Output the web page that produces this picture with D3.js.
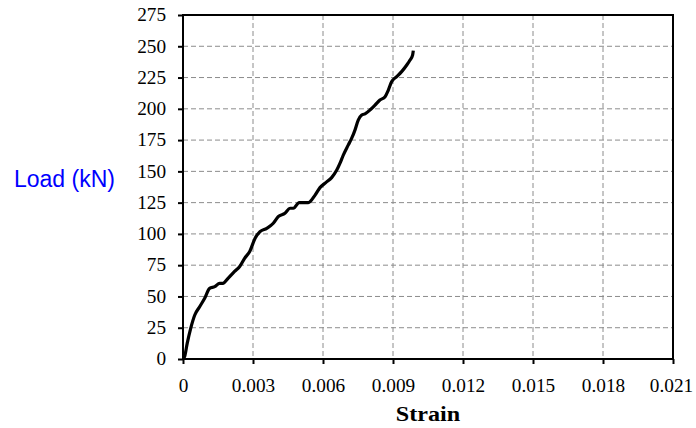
<!DOCTYPE html>
<html>
<head>
<meta charset="utf-8">
<script src="https://cdn.jsdelivr.net/npm/d3@7"></script>
<style>
  body { margin: 0; background: #fff; }
  .tick text { font-family: "Liberation Serif", "Times New Roman", serif; font-size: 18px; fill: #000; }
</style>
</head>
<body>
<div id="chart"></div>
<script>
// strain / load readings taken off the curve
const strain = [0, 0.00007, 0.00018, 0.00033, 0.0005, 0.00072, 0.00093, 0.00114, 0.00136, 0.00157,
  0.00171, 0.00193, 0.00221, 0.00243, 0.00264, 0.00286, 0.00309, 0.0033, 0.00359, 0.00387,
  0.00408, 0.00437, 0.00459, 0.00473, 0.00498, 0.00537, 0.00566, 0.00587, 0.00612, 0.00637,
  0.00659, 0.00673, 0.00687, 0.00708, 0.00723, 0.00737, 0.00751, 0.00766, 0.0078, 0.00801,
  0.00823, 0.00844, 0.00866, 0.0088, 0.00894, 0.00916, 0.00937, 0.00959, 0.00973, 0.00984, 0.00987];
const load = [0, 2, 12.5, 24.5, 35, 42, 48.5, 56.5, 57.8, 60.5,
  60.5, 64.5, 70, 74, 80.5, 86, 96.5, 101.8, 104.5, 108.5,
  113.8, 116.5, 120.5, 120.5, 125, 125, 131, 137, 141, 145,
  151, 156.5, 163, 171, 176.5, 183, 191, 195, 196, 199,
  203, 207, 209.7, 215, 221.7, 225.7, 229.7, 235, 239, 243, 246.5];

const xTicks = [0, 0.003, 0.006, 0.009, 0.012, 0.015, 0.018, 0.021];
const yTicks = [0, 25, 50, 75, 100, 125, 150, 175, 200, 225, 250, 275];

const W = 696, H = 428;
const margin = {top: 15, right: 23, bottom: 69, left: 183};
const width = W - margin.left - margin.right;
const height = H - margin.top - margin.bottom;
const sx = 1.07; // the source picture's text is a touch wider than normal

const svg = d3.select("#chart").append("svg")
    .attr("width", W)
    .attr("height", H);

const g = svg.append("g")
    .attr("transform", `translate(${margin.left},${margin.top})`);

const x = d3.scaleLinear().domain([0, 0.021]).range([0, width]);
const y = d3.scaleLinear().domain([0, 275]).range([height, 0]);

// dashed grid
g.selectAll(".vgrid")
  .data(xTicks.slice(1, -1))
  .join("line")
    .attr("x1", d => x(d)).attr("x2", d => x(d))
    .attr("y1", 0).attr("y2", height)
    .attr("stroke", "#8c8c8c").attr("stroke-width", 1)
    .attr("stroke-dasharray", "5,3");

g.selectAll(".hgrid")
  .data(yTicks.slice(1, -1))
  .join("line")
    .attr("x1", 0).attr("x2", width)
    .attr("y1", d => y(d)).attr("y2", d => y(d))
    .attr("stroke", "#8c8c8c").attr("stroke-width", 1)
    .attr("stroke-dasharray", "5,3");

// frame
g.append("rect")
  .attr("width", width).attr("height", height)
  .attr("fill", "none").attr("stroke", "#000").attr("stroke-width", 2);

const xAxis = d3.axisBottom(x).tickValues(xTicks).tickSize(5).tickPadding(15)
    .tickFormat(d => d === 0 ? "0" : d3.format(".3f")(d));
const yAxis = d3.axisLeft(y).tickValues(yTicks).tickSize(5).tickPadding(8);

g.append("g").attr("transform", `translate(0,${height})`).call(xAxis)
  .call(a => a.select(".domain").remove())
  .call(a => a.selectAll(".tick line").attr("stroke-width", 2))
  .call(a => a.selectAll(".tick text").attr("transform", `scale(${sx},1)`))
  .call(a => a.selectAll(".tick:last-of-type text").attr("x", -2 / sx));
g.append("g").call(yAxis)
  .call(a => a.select(".domain").remove())
  .call(a => a.selectAll(".tick line").attr("stroke-width", 2))
  .call(a => a.selectAll(".tick text").attr("x", -17 / sx).attr("transform", `scale(${sx},1)`));

// curve
const line = d3.line()
  .x((d, i) => x(strain[i]))
  .y((d, i) => y(load[i]))
  .curve(d3.curveMonotoneX);

g.append("path")
  .datum(load)
  .attr("fill", "none")
  .attr("stroke", "#000")
  .attr("stroke-width", 3.2)
  .attr("stroke-linejoin", "round")
  .attr("d", line);

// axis titles
svg.append("text")
  .attr("transform", `translate(${margin.left + width / 2},421) scale(1.15,1)`)
  .attr("text-anchor", "middle")
  .style("font-family", "'Liberation Serif', serif")
  .style("font-weight", "bold").style("font-size", "21px")
  .text("Strain");

svg.append("text")
  .attr("x", 14).attr("y", 187)
  .style("font-family", "'Liberation Sans', Arial, sans-serif")
  .style("font-size", "23px").attr("fill", "#0000ff")
  .text("Load (kN)");
</script>
</body>
</html>
